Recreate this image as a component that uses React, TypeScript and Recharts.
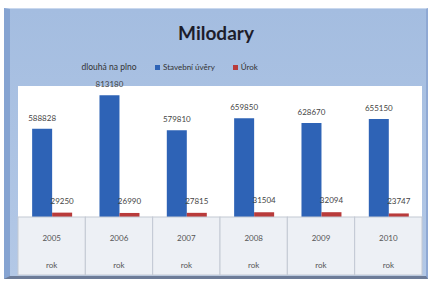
import React from 'react';
import { BarChart, Bar, XAxis, YAxis, LabelList } from 'recharts';

const years = ['2005', '2006', '2007', '2008', '2009', '2010'];
const unitRow = ['rok', 'rok', 'rok', 'rok', 'rok', 'rok'];
const uvery = [588828, 813180, 579810, 659850, 628670, 655150];
const urok = [29250, 26990, 27815, 31504, 32094, 23747];

const data = years.map((y, i) => ({ year: y, unit: unitRow[i], uvery: uvery[i], urok: urok[i] }));

const FONT = 'Lato, "Liberation Sans", sans-serif';
const CELL_W = 404 / 6;

function TableTick(props: any) {
    const { x, y, payload, index } = props;
    const row = data[index] || {};
    return (
        <g>
            <rect x={x - CELL_W / 2} y={y} width={CELL_W} height={58} fill="#edf0f5" stroke="#c3c9d3" strokeWidth={1} />
            <text x={x} y={y + 24} textAnchor="middle" fontSize={8} fill="#555" fontFamily={FONT}>{payload.value}</text>
            <text x={x} y={y + 51} textAnchor="middle" fontSize={8} fill="#555" fontFamily={FONT}>{row.unit}</text>
        </g>
    );
}

function App() {
    return (
        <div style={{ position: 'absolute', left: 0, top: 0, width: 432, height: 285, background: '#fff' }}>
            <div style={{
                position: 'absolute', left: 4, top: 8, width: 424, height: 271,
                background: 'linear-gradient(#a4bde0, #b3c8e6)',
                borderTop: '1px solid #c9d8ee', borderLeft: '6px solid #86a4d2',
                borderRight: '2px solid #8fa9d4', borderBottom: '3px solid #6d7c98', boxSizing: 'border-box'
            }} />
            <div style={{ position: 'absolute', left: 0, top: 21, width: 432, textAlign: 'center', fontFamily: FONT, fontWeight: 700, fontSize: 19, color: '#1d1d2b' }}>
                Milodary
            </div>
            <div style={{ position: 'absolute', left: 155, top: 62, fontFamily: FONT, fontSize: 8, color: '#333', display: 'flex', alignItems: 'center' }}>
                <span style={{ width: 5, height: 5, background: '#2e63b6', marginRight: 3, display: 'inline-block' }} />
                <span>Stavební úvěry</span>
                <span style={{ width: 5, height: 5, background: '#b93b3b', marginLeft: 18, marginRight: 3, display: 'inline-block' }} />
                <span>Úrok</span>
            </div>
            <div style={{ position: 'absolute', left: 70, top: 62, width: 78, textAlign: 'center', fontFamily: FONT, fontSize: 8.5, color: '#333' }}>
                dlouhá na plno
            </div>
            <div style={{ position: 'absolute', left: 18, top: 86, width: 404, height: 131, background: '#fff' }} />
            <div style={{ position: 'absolute', left: 0, top: 0 }}>
                <BarChart width={432} height={285} data={data} margin={{ top: 86, left: 18, right: 10, bottom: 10 }} barCategoryGap="21%" barGap={0}>
                    <XAxis dataKey="year" height={58} tickLine={false} axisLine={false} tickSize={0} tickMargin={0} tick={<TableTick />} interval={0} />
                    <YAxis hide domain={[0, 875000]} />
                    <Bar dataKey="uvery" fill="#2e63b6" isAnimationActive={false}>
                        <LabelList dataKey="uvery" position="top" offset={8} fontSize={8} fill="#444" fontFamily={FONT} />
                    </Bar>
                    <Bar dataKey="urok" fill="#b93b3b" isAnimationActive={false}>
                        <LabelList dataKey="urok" position="top" offset={9} fontSize={8} fill="#444" fontFamily={FONT} />
                    </Bar>
                </BarChart>
            </div>
        </div>
    );
}

export default App;
